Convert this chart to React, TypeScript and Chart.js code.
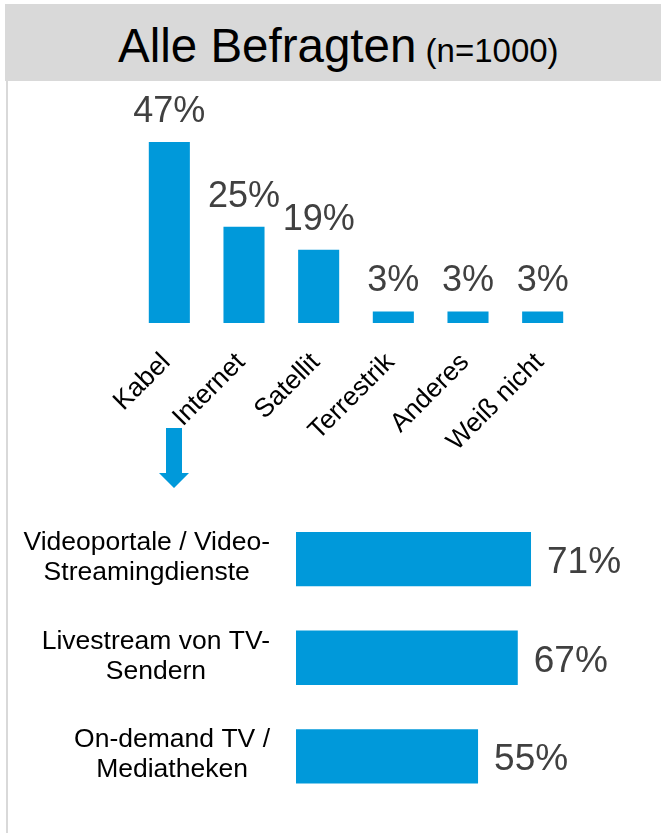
import React, { useEffect, useLayoutEffect, useRef } from 'react';
import { Chart, registerables } from 'chart.js';

Chart.register(...registerables);

// ---- data ----
const titleMain = 'Alle Befragten';
const titleSample = '(n=1000)';
const sourceCategories = ['Kabel', 'Internet', 'Satellit', 'Terrestrik', 'Anderes', 'Weiß nicht'];
const sourceValues = [47, 25, 19, 3, 3, 3];
const internetCategories = [
  ['Videoportale / Video-', 'Streamingdienste'],
  ['Livestream von TV-', 'Sendern'],
  ['On-demand TV /', 'Mediatheken'],
];
const internetValues = [71, 67, 55];

// ---- styles ----
const BAR = '#0099da';
const GREY = '#d9d9d9';
const LABEL = '#404040';
const FONT = '"Liberation Sans", Arial, Helvetica, sans-serif';

const topValuePlugin = {
  id: 'topValues',
  afterDatasetsDraw(chart: any) {
    const ctx = chart.ctx;
    const meta = chart.getDatasetMeta(0);
    ctx.save();
    ctx.font = `36px ${FONT}`;
    ctx.fillStyle = LABEL;
    ctx.textAlign = 'center';
    ctx.textBaseline = 'alphabetic';
    meta.data.forEach((bar: any, i: number) => {
      const v = chart.data.datasets[0].data[i];
      ctx.fillText(`${v}%`, bar.x, bar.y - 20);
    });
    ctx.restore();
  },
};

const bottomLabelPlugin = {
  id: 'bottomLabels',
  afterDatasetsDraw(chart: any) {
    const ctx = chart.ctx;
    const meta = chart.getDatasetMeta(0);
    const right = chart.chartArea.left - 26;
    ctx.save();
    // category labels
    ctx.font = `26.5px ${FONT}`;
    ctx.fillStyle = '#000000';
    ctx.textAlign = 'center';
    ctx.textBaseline = 'alphabetic';
    meta.data.forEach((bar: any, i: number) => {
      const lines: string[] = chart.data.labels[i];
      const widest = Math.max(...lines.map((l) => ctx.measureText(l).width));
      const cx = right - widest / 2;
      lines.forEach((line, j) => {
        ctx.fillText(line, cx, bar.y - 9 + j * 30);
      });
    });
    // value labels
    ctx.font = `37px ${FONT}`;
    ctx.fillStyle = LABEL;
    ctx.textAlign = 'left';
    meta.data.forEach((bar: any, i: number) => {
      const v = chart.data.datasets[0].data[i];
      ctx.fillText(`${v}%`, bar.x + 16, bar.y + 14);
    });
    ctx.restore();
  },
};

export default function App() {
  const topRef = useRef<HTMLCanvasElement>(null);
  const bottomRef = useRef<HTMLCanvasElement>(null);

  useLayoutEffect(() => {
    document.body.style.margin = '0';
  }, []);

  useEffect(() => {
    const top = new Chart(topRef.current as HTMLCanvasElement, {
      type: 'bar',
      data: {
        labels: sourceCategories,
        datasets: [
          {
            data: sourceValues,
            backgroundColor: BAR,
            barPercentage: 0.55,
            categoryPercentage: 1,
          },
        ],
      },
      options: {
        animation: false,
        responsive: false,
        layout: { padding: { left: 132, right: 81, top: 49.5, bottom: 28 } },
        plugins: { legend: { display: false }, tooltip: { enabled: false } },
        scales: {
          x: {
            grid: { display: false, drawTicks: false },
            border: { display: false },
            ticks: {
              minRotation: 45,
              maxRotation: 45,
              autoSkip: false,
              padding: 24,
              labelOffset: -3,
              color: '#000000',
              font: { family: FONT, size: 26.5 },
            },
            afterFit: (s: any) => {
              s.height = 130;
            },
          },
          y: { display: false, min: 0, max: 50 },
        },
      },
      plugins: [topValuePlugin],
    } as any);

    const bottom = new Chart(bottomRef.current as HTMLCanvasElement, {
      type: 'bar',
      data: {
        labels: internetCategories as any,
        datasets: [
          {
            data: internetValues,
            backgroundColor: BAR,
            barPercentage: 0.55,
            categoryPercentage: 1,
          },
        ],
      },
      options: {
        indexAxis: 'y',
        animation: false,
        responsive: false,
        layout: { padding: { left: 296, right: 34, top: 28.7, bottom: 27.2 } },
        plugins: { legend: { display: false }, tooltip: { enabled: false } },
        scales: {
          x: { display: false, min: 0, max: 100 },
          y: { display: false },
        },
      },
      plugins: [bottomLabelPlugin],
    } as any);

    return () => {
      top.destroy();
      bottom.destroy();
    };
  }, []);

  return (
    <div style={{ position: 'relative', width: 661, height: 833, background: '#ffffff', overflow: 'hidden', fontFamily: FONT }}>
      <div style={{ position: 'absolute', left: 5, top: 4, width: 656, height: 77, background: GREY }} />
      <div style={{ position: 'absolute', left: 6, top: 81, width: 2, height: 752, background: GREY }} />
      <div
        style={{
          position: 'absolute',
          left: 118,
          top: 22.4,
          fontSize: 47.5,
          lineHeight: 1,
          whiteSpace: 'nowrap',
          color: '#000000',
        }}
      >
        {titleMain}
        <span style={{ fontSize: 33 }}>{' ' + titleSample}</span>
      </div>
      <canvas
        ref={topRef}
        width={661}
        height={400}
        style={{ position: 'absolute', left: 0, top: 81, width: 661, height: 400 }}
      />
      <svg
        width={40}
        height={70}
        style={{ position: 'absolute', left: 155, top: 425 }}
      >
        <polygon points="11,3 27,3 27,48 34,48 19,63 4,48 11,48" fill={BAR} />
      </svg>
      <canvas
        ref={bottomRef}
        width={661}
        height={352}
        style={{ position: 'absolute', left: 0, top: 481, width: 661, height: 352 }}
      />
    </div>
  );
}
